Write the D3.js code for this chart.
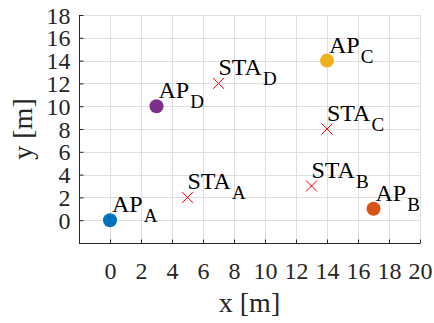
<!DOCTYPE html>
<html>
<head>
<meta charset="utf-8">
<script src="https://cdn.jsdelivr.net/npm/d3@7"></script>
<style>
  html, body { margin: 0; padding: 0; background: #fff; }
</style>
</head>
<body>
<svg id="chart" width="434" height="323"></svg>
<script>
// Access points and stations (positions in metres)
const apNames = ["A", "B", "C", "D"];
const apX = [0, 17, 14, 3];
const apY = [0, 1, 14, 10];
const apColors = ["#0072BD", "#D95319", "#EDB120", "#7E2F8E"];

const staNames = ["A", "B", "C", "D"];
const staX = [5, 13, 14, 7];
const staY = [2, 3, 8, 12];

const xTicks = [0, 2, 4, 6, 8, 10, 12, 14, 16, 18, 20];
const yTicks = [0, 2, 4, 6, 8, 10, 12, 14, 16, 18];

const FONT = "Liberation Serif";
const svg = d3.select("#chart");
const margin = { left: 79, right: 14, top: 15, bottom: 80 };
const W = 434, H = 323;

const x = d3.scaleLinear().domain([-2, 20]).range([margin.left, W - margin.right]);
const y = d3.scaleLinear().domain([-2, 18]).range([H - margin.bottom, margin.top]);

// grid
const grid = svg.append("g").attr("stroke", "#dfdfdf").attr("stroke-width", 1);
grid.selectAll("line.v").data(xTicks).join("line")
  .attr("x1", d => Math.round(x(d)) + 0.5).attr("x2", d => Math.round(x(d)) + 0.5)
  .attr("y1", y(-2)).attr("y2", y(18));
grid.selectAll("line.h").data(yTicks).join("line")
  .attr("y1", d => Math.round(y(d)) + 0.5).attr("y2", d => Math.round(y(d)) + 0.5)
  .attr("x1", x(-2)).attr("x2", x(20));

// axes with inward ticks
const xAxis = d3.axisBottom(x).tickValues(xTicks).tickSizeInner(-4).tickSizeOuter(0).tickPadding(0);
const yAxis = d3.axisLeft(y).tickValues(yTicks).tickSizeInner(-4).tickSizeOuter(0).tickPadding(0);

const gx = svg.append("g").attr("transform", `translate(0,${Math.round(y(-2)) + 0.5})`).call(xAxis);
const gy = svg.append("g").attr("transform", `translate(${Math.round(x(-2)) + 0.5},0)`).call(yAxis);

[gx, gy].forEach(g => {
  g.attr("font-family", null).attr("font-size", null);
  g.select(".domain").attr("stroke", "#262626");
  g.selectAll(".tick line").attr("stroke", "#262626");
  g.selectAll(".tick text").attr("fill", "#262626")
    .style("font-family", FONT)
    .style("font-size", "24px");
});
gx.select(".domain").attr("d", `M${x(-2)},0H${x(20)}`);
gy.select(".domain").attr("d", `M0,${y(-2)}V${y(18)}`);
gx.selectAll(".tick text").attr("y", 35).attr("dy", 0);
gy.selectAll(".tick text").attr("x", -9).attr("dy", "0.34em");

// axis titles
svg.append("text")
  .attr("x", (x(-2) + x(20)) / 2).attr("y", 312)
  .attr("text-anchor", "middle").attr("fill", "#262626")
  .style("font-family", FONT).style("font-size", "28px")
  .text("x [m]");
svg.append("text")
  .attr("transform", `translate(32,${(y(-2) + y(18)) / 2}) rotate(-90)`)
  .attr("text-anchor", "middle").attr("fill", "#262626")
  .style("font-family", FONT).style("font-size", "28px")
  .text("y [m]");

// label helper: main text with a subscript
function label(g, px, py, main, sub) {
  const t = g.append("text")
    .attr("x", px + 2).attr("y", py - 8)
    .attr("fill", "#000")
    .style("font-family", FONT).style("font-size", "24px");
  t.append("tspan").text(main);
  t.append("tspan").attr("dy", 10).attr("dx", 1).style("font-size", "19px").text(sub);
}

// stations: red crosses
const staG = svg.append("g");
const s = 5.5;
staNames.forEach((n, i) => {
  const cx = x(staX[i]), cy = y(staY[i]);
  staG.append("path")
    .attr("d", `M${cx - s},${cy - s}L${cx + s},${cy + s}M${cx - s},${cy + s}L${cx + s},${cy - s}`)
    .attr("stroke", "#ff0000").attr("stroke-width", 1).attr("fill", "none");
  label(staG, cx - 2, cy, "STA", n);
});

// access points: filled dots
const apG = svg.append("g");
apNames.forEach((n, i) => {
  apG.append("circle")
    .attr("cx", x(apX[i])).attr("cy", y(apY[i])).attr("r", 7)
    .attr("fill", apColors[i]);
  label(apG, x(apX[i]), y(apY[i]), "AP", n);
});
</script>
</body>
</html>
